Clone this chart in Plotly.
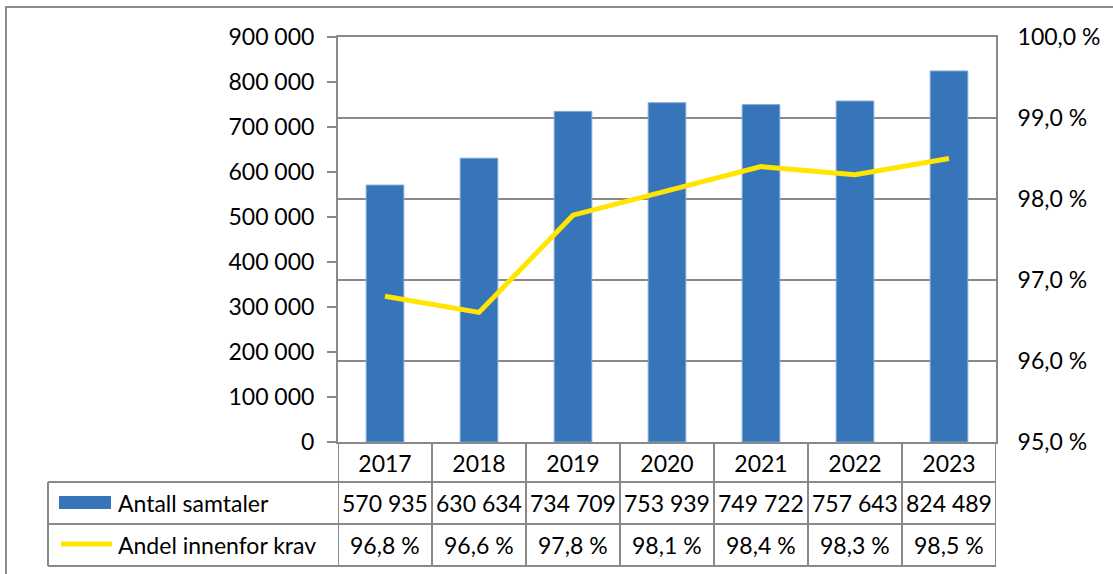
import plotly.graph_objects as go

years = ["2017", "2018", "2019", "2020", "2021", "2022", "2023"]
antall = [570935, 630634, 734709, 753939, 749722, 757643, 824489]
andel = [96.8, 96.6, 97.8, 98.1, 98.4, 98.3, 98.5]
antall_labels = ["570 935", "630 634", "734 709", "753 939", "749 722", "757 643", "824 489"]
andel_labels = ["96,8 %", "96,6 %", "97,8 %", "98,1 %", "98,4 %", "98,3 %", "98,5 %"]

W, H = 1113, 574
L, R, T, B = 338, 996, 37, 442  # pixel positions of plot area
FONT = "Lato"
FS = 23
GRID = "#898989"
BAR = "#3675B9"
YEL = "#FFE500"

def px(xp):
    return (xp - L) / (R - L)

def py(yp):
    return (B - yp) / (B - T)

fig = go.Figure()
fig.add_trace(go.Bar(x=years, y=antall, name="Antall samtaler", width=0.4,
                     marker=dict(color=BAR, line=dict(color="#7FA6D6", width=1)),
                     yaxis="y"))
fig.add_trace(go.Scatter(x=years, y=andel, name="Andel innenfor krav", mode="lines",
                         line=dict(color=YEL, width=5), yaxis="y2"))

shapes = []
# outer chart border (left and top visible)
shapes.append(dict(type="rect", xref="paper", yref="paper",
                   x0=px(6), x1=px(1130), y0=py(7), y1=py(600),
                   line=dict(color="#8c8c8c", width=2), layer="below"))
# data table horizontal lines
row_y = [482, 524, 566]
for yy in row_y:
    shapes.append(dict(type="line", xref="paper", yref="paper",
                       x0=px(48), x1=px(R), y0=py(yy), y1=py(yy),
                       line=dict(color=GRID, width=2)))
# vertical lines of table: column boundaries
for i in range(len(years) + 1):
    xv = i - 0.5
    shapes.append(dict(type="line", xref="x", yref="paper",
                       x0=xv, x1=xv, y0=py(B), y1=py(566),
                       line=dict(color=GRID, width=2)))
# legend column left edge
shapes.append(dict(type="line", xref="paper", yref="paper",
                   x0=px(48), x1=px(48), y0=py(482), y1=py(566),
                   line=dict(color=GRID, width=2)))
# legend swatches
shapes.append(dict(type="rect", xref="paper", yref="paper",
                   x0=px(59), x1=px(111), y0=py(496), y1=py(509),
                   fillcolor=BAR, line=dict(width=0)))
shapes.append(dict(type="line", xref="paper", yref="paper",
                   x0=px(61), x1=px(112), y0=py(544), y1=py(544),
                   line=dict(color=YEL, width=5)))

annotations = []
annotations.append(dict(xref="paper", yref="paper", x=px(116), y=py(503),
                        text="Antall samtaler", showarrow=False, xanchor="left", yanchor="middle",
                        font=dict(family=FONT, size=FS, color="#000")))
annotations.append(dict(xref="paper", yref="paper", x=px(116), y=py(545),
                        text="Andel innenfor krav", showarrow=False, xanchor="left", yanchor="middle",
                        font=dict(family=FONT, size=FS, color="#000")))
for i in range(len(years)):
    annotations.append(dict(xref="x", yref="paper", x=i, y=py(503), text=antall_labels[i],
                            showarrow=False, xanchor="center", yanchor="middle",
                            font=dict(family=FONT, size=FS, color="#000")))
    annotations.append(dict(xref="x", yref="paper", x=i, y=py(545), text=andel_labels[i],
                            showarrow=False, xanchor="center", yanchor="middle",
                            font=dict(family=FONT, size=FS, color="#000")))

fig.update_layout(
    width=W, height=H,
    margin=dict(l=L, r=W - R, t=T, b=H - B, pad=0, autoexpand=False),
    paper_bgcolor="white", plot_bgcolor="white",
    separators=", ",
    showlegend=False,
    font=dict(family=FONT, size=FS, color="#000"),
    xaxis=dict(type="category", range=[-0.5, 6.5], showline=True, mirror=True,
               linecolor=GRID, linewidth=2, ticks="", showgrid=False, automargin=False,
               tickfont=dict(family=FONT, size=FS), ticklabelstandoff=0),
    yaxis=dict(range=[0, 900000], dtick=100000, tickformat=",d", showgrid=False,
               showline=True, linecolor=GRID, linewidth=2, ticks="outside", ticklen=9,
               tickcolor=GRID, tickwidth=2, zeroline=False, automargin=False,
               tickfont=dict(family=FONT, size=FS), ticklabelstandoff=8),
    yaxis2=dict(range=[95, 100], dtick=1, tickformat=".1f", ticksuffix=" %",
                overlaying="y", side="right", showgrid=True, gridcolor=GRID, gridwidth=2,
                showline=True, linecolor=GRID, linewidth=2, ticks="", zeroline=False,
                automargin=False,
                tickfont=dict(family=FONT, size=FS), ticklabelstandoff=15),
    shapes=shapes,
    annotations=annotations,
)

fig.write_html("out.html",
               config={"displayModeBar": False},
               post_script="document.body.style.margin='0';document.body.style.overflow='hidden';")
